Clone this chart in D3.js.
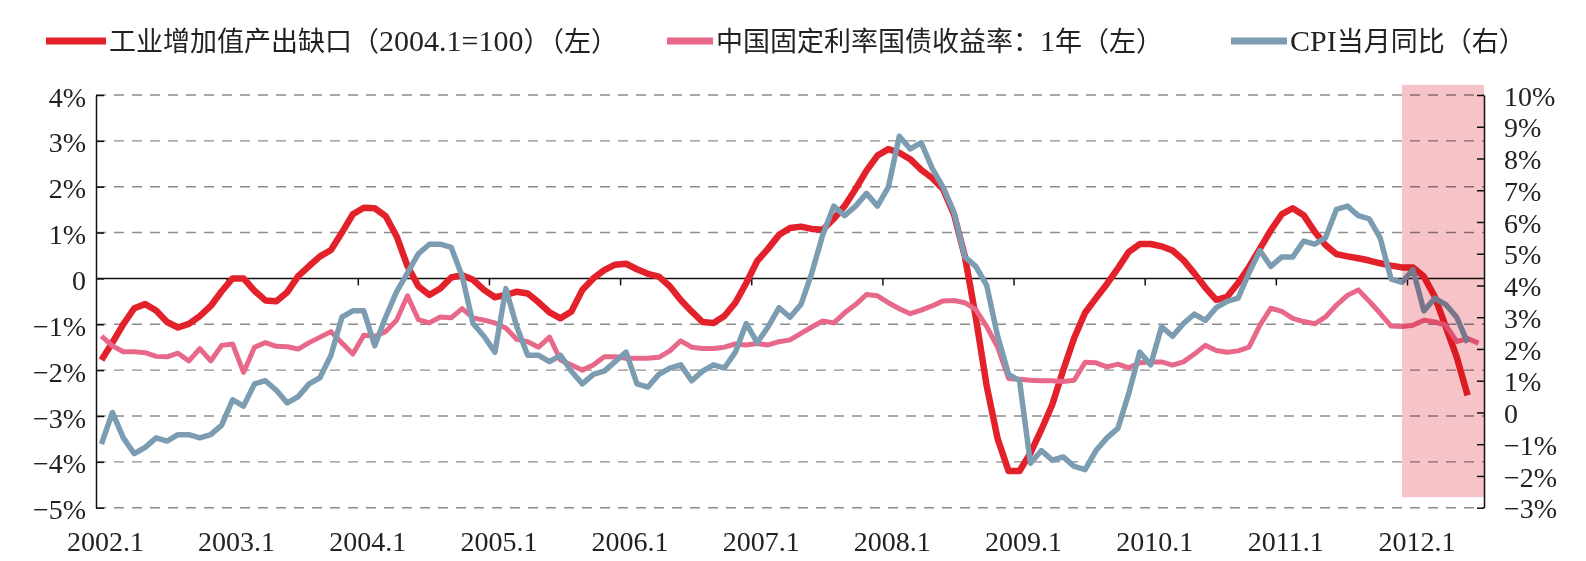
<!DOCTYPE html>
<html>
<head>
<meta charset="utf-8">
<script src="https://cdn.jsdelivr.net/npm/d3@7"></script>
<style>
	body { margin: 0; background: #fff; }
	svg { display: block; }
	text { font-family: "Liberation Serif", "Noto Sans CJK SC", serif; fill: #222; }
</style>
</head>
<body>
<div id="chart"></div>
<script>
var categories = [];
for (var yr = 2002; yr <= 2012; yr++) {
	for (var m = 1; m <= 12; m++) {
		if (yr == 2012 && m > 7) break;
		categories.push(yr + "." + m);
	}
}

var tickLabels = ["2002.1", "2003.1", "2004.1", "2005.1", "2006.1", "2007.1", "2008.1", "2009.1", "2010.1", "2011.1", "2012.1"];
var leftTicks = [-5, -4, -3, -2, -1, 0, 1, 2, 3, 4];
var rightTicks = [-3, -2, -1, 0, 1, 2, 3, 4, 5, 6, 7, 8, 9, 10];

var seriesNames = ["工业增加值产出缺口（2004.1=100）（左）", "中国固定利率国债收益率：1年（左）", "CPI当月同比（右）"];

// 工业增加值产出缺口, %, left axis
var outputGap = [
	-1.78, -1.40, -1.00, -0.65, -0.56, -0.70, -0.95, -1.07, -0.99, -0.82, -0.60, -0.28,
	0.00, 0.00, -0.27, -0.48, -0.50, -0.30, 0.05, 0.27, 0.48, 0.62, 1.00, 1.40,
	1.54, 1.53, 1.36, 0.92, 0.27, -0.17, -0.36, -0.22, 0.02, 0.07, -0.03, -0.25,
	-0.41, -0.36, -0.29, -0.33, -0.52, -0.74, -0.87, -0.72, -0.25, 0.00, 0.18, 0.30,
	0.32, 0.20, 0.10, 0.04, -0.17, -0.47, -0.72, -0.95, -0.97, -0.82, -0.53, -0.10,
	0.38, 0.65, 0.95, 1.10, 1.13, 1.08, 1.06, 1.30, 1.58, 1.95, 2.35, 2.68,
	2.82, 2.74, 2.60, 2.37, 2.19, 1.95, 1.40, 0.48, -0.85, -2.35, -3.50, -4.20,
	-4.20, -3.81, -3.30, -2.75, -2.00, -1.30, -0.75, -0.43, -0.12, 0.22, 0.58, 0.75,
	0.75, 0.70, 0.61, 0.40, 0.11, -0.20, -0.47, -0.40, -0.10, 0.25, 0.65, 1.05,
	1.40, 1.53, 1.38, 1.02, 0.73, 0.53, 0.48, 0.44, 0.39, 0.33, 0.28, 0.24,
	0.24, 0.04, -0.40, -1.05, -1.71, -2.55, null
];

// 中国固定利率国债收益率: 1年, plotted on the left axis
var bondYield = [
	-1.26, -1.47, -1.60, -1.60, -1.62, -1.70, -1.71, -1.63, -1.80, -1.53, -1.80, -1.46,
	-1.43, -2.05, -1.50, -1.40, -1.48, -1.49, -1.54, -1.40, -1.28, -1.16, -1.41, -1.65,
	-1.24, -1.26, -1.16, -0.91, -0.38, -0.90, -0.97, -0.84, -0.86, -0.66, -0.86, -0.91,
	-0.97, -1.08, -1.33, -1.38, -1.50, -1.28, -1.78, -1.89, -2.00, -1.89, -1.71, -1.71,
	-1.74, -1.74, -1.74, -1.72, -1.58, -1.36, -1.50, -1.53, -1.53, -1.50, -1.43, -1.45,
	-1.42, -1.45, -1.38, -1.34, -1.20, -1.06, -0.93, -0.97, -0.75, -0.57, -0.35, -0.38,
	-0.53, -0.66, -0.77, -0.69, -0.60, -0.49, -0.48, -0.53, -0.68, -1.05, -1.50, -2.18,
	-2.20, -2.22, -2.23, -2.23, -2.25, -2.22, -1.83, -1.84, -1.93, -1.87, -1.95, -1.84,
	-1.82, -1.82, -1.89, -1.82, -1.65, -1.46, -1.57, -1.61, -1.58, -1.50, -1.02, -0.65,
	-0.72, -0.87, -0.94, -0.99, -0.84, -0.58, -0.37, -0.25, -0.50, -0.76, -1.04, -1.05,
	-1.02, -0.91, -0.95, -1.02, -1.38, -1.31, -1.41
];

// CPI当月同比, %, right axis
var cpi = [
	-1.0, 0.0, -0.8, -1.3, -1.1, -0.8, -0.9, -0.7, -0.7, -0.8, -0.7, -0.4,
	0.4, 0.2, 0.9, 1.0, 0.7, 0.3, 0.5, 0.9, 1.1, 1.8, 3.0, 3.2,
	3.2, 2.1, 3.0, 3.8, 4.4, 5.0, 5.3, 5.3, 5.2, 4.3, 2.8, 2.4,
	1.9, 3.9, 2.7, 1.8, 1.8, 1.6, 1.8, 1.3, 0.9, 1.2, 1.3, 1.6,
	1.9, 0.9, 0.8, 1.2, 1.4, 1.5, 1.0, 1.3, 1.5, 1.4, 1.9, 2.8,
	2.2, 2.7, 3.3, 3.0, 3.4, 4.4, 5.6, 6.5, 6.2, 6.5, 6.9, 6.5,
	7.1, 8.7, 8.3, 8.5, 7.7, 7.1, 6.3, 4.9, 4.6, 4.0, 2.4, 1.2,
	1.0, -1.6, -1.2, -1.5, -1.4, -1.7, -1.8, -1.2, -0.8, -0.5, 0.6, 1.9,
	1.5, 2.7, 2.4, 2.8, 3.1, 2.9, 3.3, 3.5, 3.6, 4.4, 5.1, 4.6,
	4.9, 4.9, 5.4, 5.3, 5.5, 6.4, 6.5, 6.2, 6.1, 5.5, 4.2, 4.1,
	4.5, 3.2, 3.6, 3.4, 3.0, 2.2, null
];

// highlighted period, left-axis units
var shadeFrom = "2011.12";
var shadeRange = [-4.77, 4.22];

var colors = ["#e3212b", "#e8688a", "#7b9cb1"];

var width = 1586, height = 561;
var plot = {left: 96, right: 1484, top: 95, bottom: 507.7};

var svg = d3.select("#chart").append("svg")
	.attr("width", width)
	.attr("height", height);

svg.append("rect").attr("width", width).attr("height", height).attr("fill", "#fff");

var x = d3.scaleBand().domain(categories).range([plot.left, plot.right]).padding(0);
var xc = function(c){ return x(c) + x.bandwidth() / 2; };
var yL = d3.scaleLinear().domain([-5, 4]).range([plot.bottom, plot.top]);
var yR = d3.scaleLinear().domain([-3, 10]).range([plot.bottom, plot.top]);

var pct = function(v){
	if (v == 0) return "0";
	return (v < 0 ? "\u2212" : "") + Math.abs(v) + "%";
};

// grid
svg.append("g").selectAll("line")
	.data(leftTicks.filter(function(v){ return v != 0; }))
	.enter().append("line")
	.attr("x1", plot.left).attr("x2", plot.right)
	.attr("y1", function(d){ return yL(d); })
	.attr("y2", function(d){ return yL(d); })
	.attr("stroke", "#8c8c8c")
	.attr("stroke-width", 1.4)
	.attr("stroke-dasharray", "10,8");

// left axis
var leftAxis = svg.append("g")
	.attr("transform", "translate(" + plot.left + ",0)")
	.call(d3.axisLeft(yL).tickValues(leftTicks).tickFormat(pct).tickSize(-8).tickSizeOuter(0).tickPadding(10));
leftAxis.selectAll("text").attr("font-size", 28).attr("dy", "0.36em").attr("y", 1);

// right axis
var rightAxis = svg.append("g")
	.attr("transform", "translate(" + plot.right + ",0)")
	.call(d3.axisRight(yR).tickValues(rightTicks).tickFormat(pct).tickSize(-7).tickSizeOuter(0).tickPadding(20));
rightAxis.selectAll("text").attr("font-size", 28).attr("dy", "0.36em");

svg.selectAll(".domain, .tick line").attr("stroke", "#111").attr("stroke-width", 1.5);
svg.selectAll(".tick text").attr("fill", "#222").attr("font-family", "'Liberation Serif', serif");

// zero line with year ticks
svg.append("line")
	.attr("x1", plot.left).attr("x2", plot.right)
	.attr("y1", yL(0)).attr("y2", yL(0))
	.attr("stroke", "#111").attr("stroke-width", 1.5);

svg.append("g").selectAll("line")
	.data(tickLabels.slice(1))
	.enter().append("line")
	.attr("x1", function(d){ return x(d); })
	.attr("x2", function(d){ return x(d); })
	.attr("y1", yL(0)).attr("y2", yL(0) + 7)
	.attr("stroke", "#111").attr("stroke-width", 1.5);

svg.append("g").selectAll("text")
	.data(tickLabels)
	.enter().append("text")
	.attr("x", function(d){ return xc(d) + 4; })
	.attr("y", 541)
	.attr("dy", "0.35em")
	.attr("text-anchor", "middle")
	.attr("font-size", 28)
	.text(function(d){ return d; });

// series
var lineL = d3.line()
	.defined(function(d){ return d != null; })
	.x(function(d, i){ return xc(categories[i]); })
	.y(function(d){ return yL(d); });
var lineR = d3.line()
	.defined(function(d){ return d != null; })
	.x(function(d, i){ return xc(categories[i]); })
	.y(function(d){ return yR(d); });

var seriesList = [
	{values: outputGap, line: lineL, width: 6.5},
	{values: bondYield, line: lineL, width: 5},
	{values: cpi, line: lineR, width: 5.5}
];

svg.append("g").selectAll("path")
	.data(seriesList)
	.enter().append("path")
	.attr("d", function(d){ return d.line(d.values); })
	.attr("fill", "none")
	.attr("stroke", function(d, i){ return colors[i]; })
	.attr("stroke-width", function(d){ return d.width; })
	.attr("stroke-linejoin", "round")
	.attr("stroke-linecap", "butt");

// shaded period
svg.append("rect")
	.attr("x", xc(shadeFrom))
	.attr("width", plot.right - xc(shadeFrom))
	.attr("y", yL(shadeRange[1]))
	.attr("height", yL(shadeRange[0]) - yL(shadeRange[1]))
	.attr("fill", "#f6c3c8")
	.style("mix-blend-mode", "multiply");

// legend
var legendPos = [{x: 46, w: 60}, {x: 667, w: 46}, {x: 1231, w: 56}];
var legend = svg.append("g").selectAll("g")
	.data(seriesNames)
	.enter().append("g")
	.attr("transform", function(d, i){ return "translate(" + legendPos[i].x + ",41)"; });

legend.append("line")
	.attr("x1", 0)
	.attr("x2", function(d, i){ return legendPos[i].w; })
	.attr("stroke", function(d, i){ return colors[i]; })
	.attr("stroke-width", 7);

// latin runs are set a little larger than the CJK text, as in the source
legend.append("text")
	.attr("x", function(d, i){ return legendPos[i].w + 3; })
	.attr("dy", "0.36em")
	.attr("font-size", 27)
	.selectAll("tspan")
	.data(function(d){ return d.match(/[A-Za-z0-9.=]+|[^A-Za-z0-9.=]+/g); })
	.enter().append("tspan")
	.attr("font-size", function(d){ return /^[A-Za-z0-9.=]+$/.test(d) ? 30 : 27; })
	.text(function(d){ return d; });
</script>
</body>
</html>
